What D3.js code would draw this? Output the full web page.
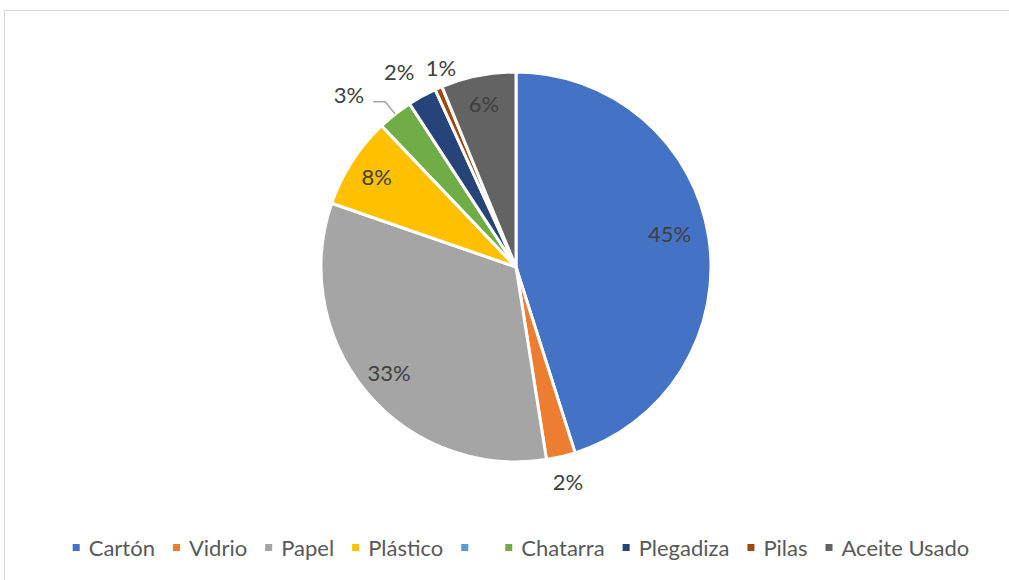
<!DOCTYPE html>
<html>
<head>
<meta charset="utf-8">
<script src="https://cdn.jsdelivr.net/npm/d3@7"></script>
<style>
  body { margin: 0; background: #fff; }
  text { font-family: Lato, "Open Sans", sans-serif; }
</style>
</head>
<body>
<div id="chart"></div>
<script>
// data
var categories = ["Cartón", "Vidrio", "Papel", "Plástico", "", "Chatarra", "Plegadiza", "Pilas", "Aceite Usado"];
var values = [45.1, 2.4, 32.8, 7.6, 0, 2.9, 2.4, 0.6, 6.2];
var colors = ["#4472C4", "#ED7D31", "#A5A5A5", "#FFC000", "#5B9BD5", "#70AD47", "#264478", "#9E480E", "#636363"];

// labels placed by hand: angle (deg) and radius from the centre
var placedLabels = {
    "Cartón": { angle: 77.8, radius: 157 },
    "Vidrio": { angle: 166.4, radius: 221 },
    "Chatarra": { angle: 315.9, radius: 240, leader: true },
    "Plegadiza": { angle: 329, radius: 227 },
    "Pilas": { angle: 339.4, radius: 213 }
};

var svgWidth = 1009;
var svgHeight = 580;
var cx = 516, cy = 267, radius = 195;

var svg = d3.select("#chart")
    .append("svg")
    .attr("width", svgWidth)
    .attr("height", svgHeight);

// chart area border (runs off the right and bottom edges)
svg.append("rect")
    .attr("x", 4.5)
    .attr("y", 10.5)
    .attr("width", svgWidth + 20)
    .attr("height", svgHeight + 20)
    .attr("fill", "none")
    .attr("stroke", "#D9D9D9")
    .attr("stroke-width", 1);

var data = categories.map(function (c, i) {
    return { name: c, value: values[i], color: colors[i] };
});

var total = d3.sum(values);
var pct = d3.format(".0%");

var pie = d3.pie()
    .sort(null)
    .value(d => d.value);

var arc = d3.arc()
    .innerRadius(0)
    .outerRadius(radius);

var arcs = pie(data);

var pieGroup = svg.append("g")
    .attr("transform", `translate(${cx}, ${cy})`);

pieGroup.selectAll("path")
    .data(arcs)
    .enter()
    .append("path")
    .attr("d", arc)
    .attr("fill", d => d.data.color)
    .attr("stroke", "#fff")
    .attr("stroke-width", 3)
    .attr("stroke-linejoin", "round");

// data labels
var labelArc = d3.arc()
    .innerRadius(radius * 0.85)
    .outerRadius(radius * 0.85);

var labelled = arcs.filter(d => d.data.value > 0);

labelled.forEach(function (d) {
    var o = placedLabels[d.data.name];
    var pos;
    if (o) {
        pos = d3.pointRadial(o.angle * Math.PI / 180, o.radius);
    } else {
        pos = labelArc.centroid(d);
    }
    var t = pieGroup.append("text")
        .attr("x", pos[0])
        .attr("y", pos[1])
        .attr("dy", "0.36em")
        .attr("text-anchor", "middle")
        .attr("fill", "#404040")
        .attr("font-size", 22)
        .text(pct(d.data.value / total));

    if (o && o.leader) {
        var mid = (d.startAngle + d.endAngle) / 2;
        var p0 = d3.pointRadial(mid, radius);
        var p1 = d3.pointRadial(mid, radius * 1.08);
        var w = t.node().getComputedTextLength();
        var xEnd = pos[0] + w / 2 + 9;
        pieGroup.append("polyline")
            .attr("points", [p0, p1, [xEnd, p1[1]]].map(p => p.join(",")).join(" "))
            .attr("fill", "none")
            .attr("stroke", "#A6A6A6")
            .attr("stroke-width", 1.5);
    }
});

// legend
var legend = svg.append("g");
var markerSize = 7, markerGap = 9, itemGap = 18;
var xPos = 0;
data.forEach(function (d) {
    var g = legend.append("g").attr("transform", `translate(${xPos}, 0)`);
    g.append("rect")
        .attr("x", 0)
        .attr("y", -4)
        .attr("width", markerSize)
        .attr("height", markerSize)
        .attr("fill", d.color);
    var t = g.append("text")
        .attr("x", markerSize + markerGap)
        .attr("y", 0)
        .attr("dy", "0.36em")
        .attr("fill", "#595959")
        .attr("font-size", 22)
        .text(d.name);
    var w = d.name ? t.node().getComputedTextLength() : 10;
    xPos += markerSize + markerGap + w + itemGap;
});
var legendWidth = xPos - itemGap;
legend.attr("transform", `translate(${521 - legendWidth / 2}, 548)`);
</script>
</body>
</html>
